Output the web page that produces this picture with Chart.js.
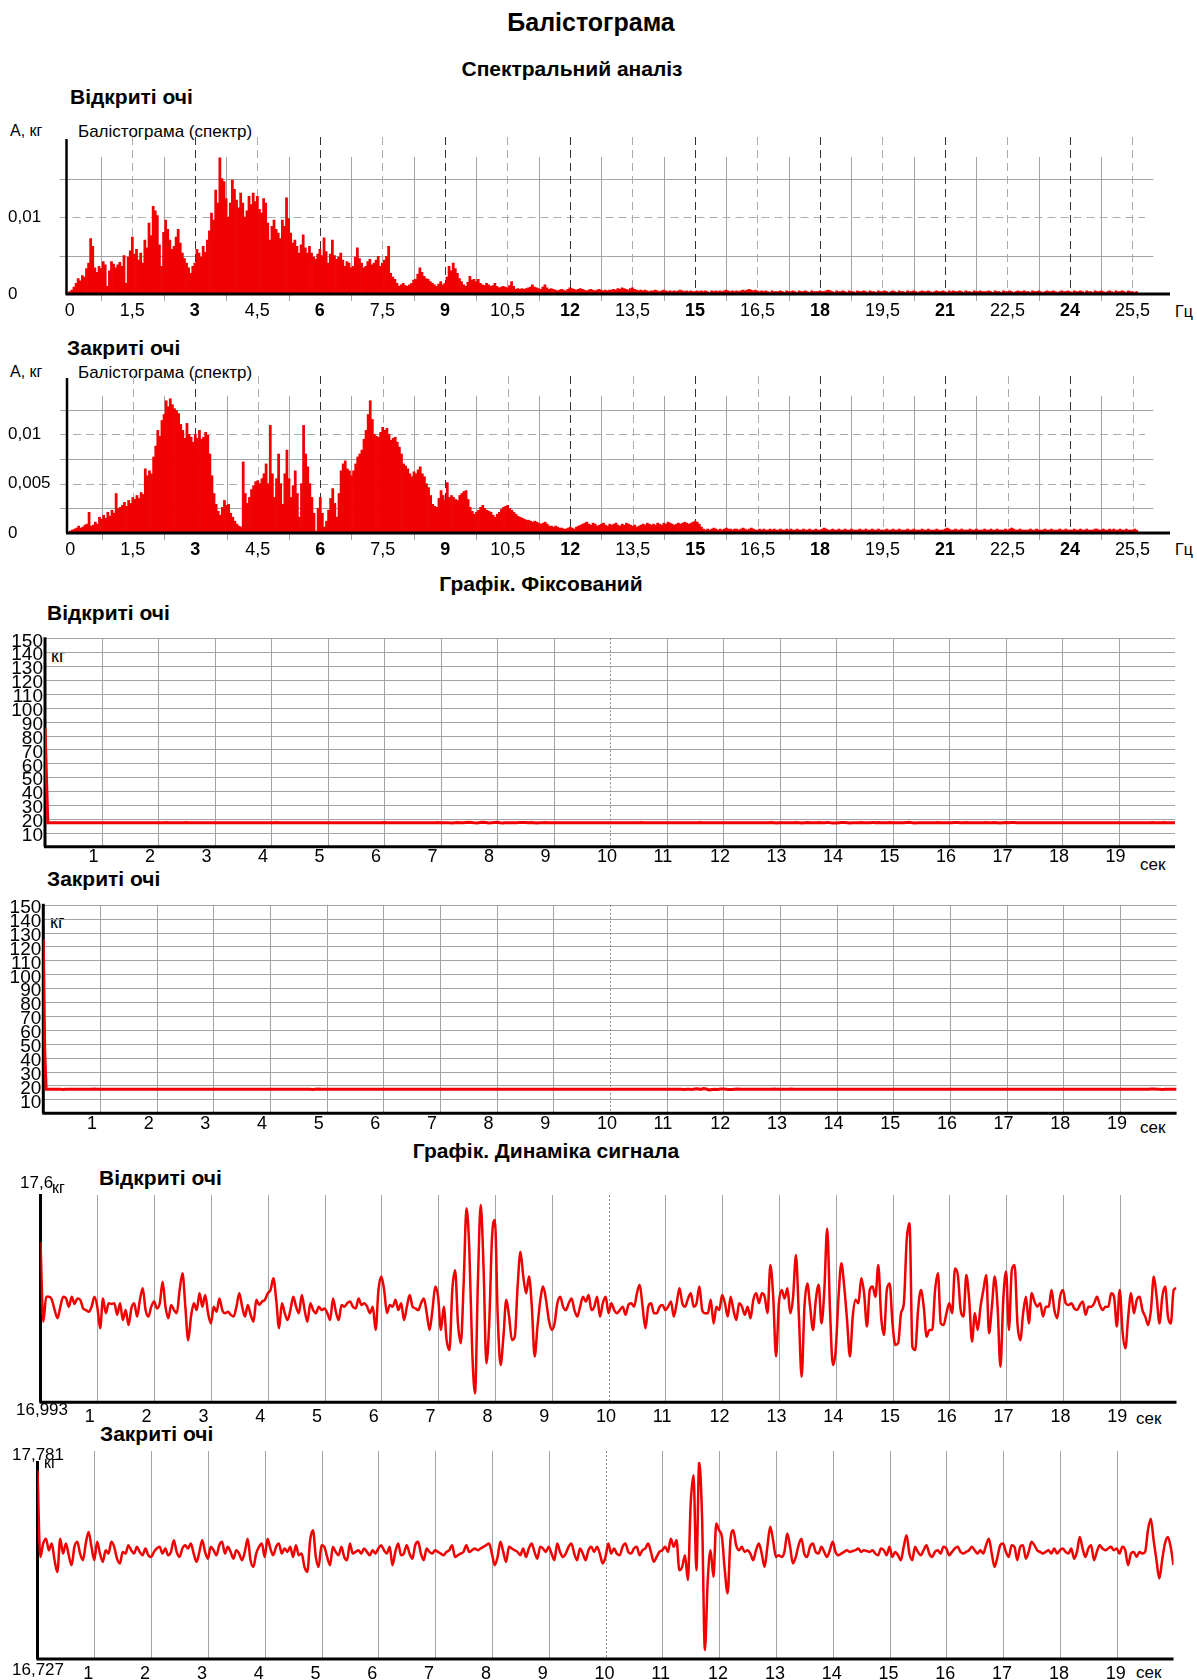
<!DOCTYPE html>
<html lang="uk">
<head>
<meta charset="utf-8">
<title>Балістограма</title>
<script src="https://cdn.jsdelivr.net/npm/chart.js@4.4.1/dist/chart.umd.min.js"></script>
<style>
  html, body { margin: 0; padding: 0; background: #fff; }
  #page { position: relative; width: 1197px; height: 1680px; overflow: hidden;
          font-family: 'Liberation Sans', Arial, Helvetica, sans-serif; color: #000; }
  .txt { position: absolute; white-space: nowrap; line-height: 1; transform: translateY(-50%); }
  .mid { transform: translate(-50%, -50%); }
  .b { font-weight: bold; }
  canvas { position: absolute; left: 0; }
</style>
</head>
<body>
<div id="page">
  <div class="txt mid b" style="left:591px;top:22px;font-size:25px">Балістограма</div>
  <div class="txt mid b" style="left:572px;top:68px;font-size:21px">Спектральний аналіз</div>
  <div class="txt b" style="left:70px;top:96px;font-size:21px">Відкриті очі</div>
  <div class="txt" style="left:10px;top:131px;font-size:16px">А, кг</div>
  <div class="txt" style="left:78px;top:131px;font-size:17px">Балістограма (спектр)</div>
  <div class="txt" style="left:1175px;top:312px;font-size:16px">Гц</div>
  <div class="txt b" style="left:67px;top:347px;font-size:21px">Закриті очі</div>
  <div class="txt" style="left:10px;top:372px;font-size:16px">А, кг</div>
  <div class="txt" style="left:78px;top:372px;font-size:17px">Балістограма (спектр)</div>
  <div class="txt" style="left:1175px;top:550px;font-size:16px">Гц</div>
  <div class="txt mid b" style="left:541px;top:583px;font-size:21px">Графік. Фіксований</div>
  <div class="txt b" style="left:47px;top:612px;font-size:21px">Відкриті очі</div>
  <div class="txt" style="left:51px;top:656px;font-size:18px">кг</div>
  <div class="txt" style="left:1140px;top:864px;font-size:17px">сек</div>
  <div class="txt b" style="left:47px;top:878px;font-size:21px">Закриті очі</div>
  <div class="txt" style="left:50px;top:922px;font-size:18px">кг</div>
  <div class="txt" style="left:1140px;top:1127px;font-size:17px">сек</div>
  <div class="txt mid b" style="left:546px;top:1150px;font-size:21px">Графік. Динаміка сигнала</div>
  <div class="txt b" style="left:99px;top:1177px;font-size:21px">Відкриті очі</div>
  <div class="txt" style="left:1136px;top:1418px;font-size:17px">сек</div>
  <div class="txt b" style="left:100px;top:1433px;font-size:21px">Закриті очі</div>
  <div class="txt" style="left:1136px;top:1672px;font-size:17px">сек</div>
</div>
<script>
// ---- Spectrum amplitudes, step 0.05 Hz from 0 Hz, in units of 0.0001 kg ----
const SPEC_STEP_HZ = 0.05;
const SPEC_UNIT_KG = 1e-4;

const spectrumOpen = [
  3,5,9,14,20,17,24,22,33,40,72,62,34,28,36,33,42,38,10,30,
  42,39,34,38,41,36,50,14,48,56,74,52,58,44,53,40,70,60,92,76,
  114,108,102,64,36,80,96,84,70,58,62,74,84,66,53,46,40,34,27,36,
  40,58,53,48,62,54,70,82,105,96,135,118,177,150,146,124,100,118,148,136,
  122,112,131,118,100,108,127,116,131,120,127,110,105,124,118,92,70,88,96,84,
  79,72,96,88,125,98,79,66,70,62,53,64,77,60,53,62,53,48,45,52,
  58,50,73,55,40,52,70,50,45,48,53,44,36,42,40,34,36,48,60,46,
  40,34,36,42,45,38,40,44,49,36,40,44,49,62,27,22,19,14,10,12,
  14,11,10,12,14,18,19,26,34,28,23,20,19,16,14,12,10,13,16,12,
  14,22,36,30,40,33,27,20,16,12,10,15,23,18,19,16,19,14,12,11,
  14,12,10,11,14,10,8,9,10,9,8,11,16,10,6,7,6,7,6,7,
  8,9,12,9,8,7,6,9,12,8,6,7,6,5,4,5,6,5,4,6,
  8,7,6,5,6,7,6,5,4,5,6,5,4,5,6,5,4,5,4,5,
  5,6,5,7,6,8,7,6,5,7,8,6,5,4,5,4,5,4,3,4,
  4,5,4,3,4,5,4,3,4,3,4,3,4,5,4,3,4,3,4,3,
  3,4,3,4,3,4,3,2,4,3,4,3,4,3,4,5,4,3,4,3,
  4,3,4,5,4,5,6,5,4,5,4,3,4,3,4,3,2,4,3,3,
  3,4,3,2,4,3,3,4,3,2,4,3,3,4,3,2,4,3,3,3,
  4,3,3,4,5,4,3,2,4,3,3,4,3,2,4,3,3,2,4,3,
  3,4,3,2,4,3,3,2,4,3,3,4,3,2,3,4,3,2,4,3,
  3,2,4,3,3,4,3,2,3,4,3,3,4,3,2,3,4,3,3,4,
  3,2,4,3,4,3,3,4,3,2,4,3,3,2,4,3,3,4,3,3,
  3,4,3,2,4,3,3,2,4,3,3,4,3,2,3,4,3,3,4,3,
  3,2,4,3,3,4,3,2,3,4,3,3,4,3,2,3,4,3,3,4,
  3,2,4,3,3,4,3,2,4,3,3,2,4,3,3,4,3,2,3,4,
  3,2,4,3,3,4,3,2,4,3,3,2,3
];

const spectrumClosed = [
  2,3,4,5,7,5,6,8,9,21,7,8,11,9,16,14,18,15,21,17,
  23,20,40,25,26,28,31,27,33,30,36,34,38,35,41,39,65,58,63,60,
  77,88,104,98,114,120,134,128,136,130,126,124,121,110,104,96,111,100,97,92,
  100,96,104,95,97,102,99,80,58,40,29,22,18,26,33,28,29,20,16,12,
  9,7,6,72,40,30,36,44,48,52,53,50,55,60,70,50,109,60,36,55,
  80,50,29,60,84,55,36,48,63,40,16,50,109,80,67,50,36,20,2,25,
  36,20,6,12,23,35,45,30,16,40,63,70,73,65,63,58,63,70,77,80,
  84,95,104,120,134,115,100,98,97,102,107,104,106,100,94,96,97,92,87,80,
  70,68,65,60,57,62,60,64,67,60,57,50,46,38,29,27,26,35,43,38,
  33,51,36,38,36,34,33,38,40,42,43,34,26,22,19,21,23,26,28,25,
  23,22,21,18,16,19,21,24,26,27,28,25,23,21,19,17,16,15,14,13,
  13,12,11,12,11,10,9,10,11,9,7,7,6,7,6,5,5,4,4,5,
  6,5,4,6,7,8,9,10,11,9,8,10,9,7,8,9,10,8,7,9,
  8,9,10,8,7,9,8,10,9,8,7,8,6,7,8,9,8,10,9,8,
  9,8,10,9,8,10,9,11,10,9,8,9,10,9,10,11,10,9,10,11,
  12,11,9,6,4,3,4,3,4,5,4,3,4,3,4,5,4,4,3,4,
  4,3,4,5,4,3,4,5,4,3,3,4,3,4,3,3,4,3,4,3,
  3,4,3,3,4,3,4,3,3,4,3,3,4,3,3,4,3,3,4,3,
  3,4,5,4,3,3,4,3,3,4,3,3,4,3,3,4,3,3,3,4,
  3,3,4,3,3,4,3,3,4,3,3,3,4,3,3,4,3,3,4,3,
  3,3,4,3,3,4,3,3,3,4,3,3,4,3,3,3,4,3,3,3,
  4,5,4,3,3,4,3,3,4,3,3,3,4,3,3,4,3,3,3,4,
  3,3,4,3,3,4,3,3,3,4,3,4,5,4,3,3,4,3,3,3,
  3,4,3,3,4,3,3,3,4,3,3,4,3,3,3,4,3,3,4,3,
  3,3,4,3,3,4,3,3,4,3,3,3,4,4,3,3,4,3,3,4,
  3,4,3,3,4,3,3,4,3,3,3,4,3
];

const specXTicks = [0, 1.5, 3, 4.5, 6, 7.5, 9, 10.5, 12, 13.5, 15, 16.5, 18, 19.5, 21, 22.5, 24, 25.5];
const specXMinor = [0.75, 2.25, 3.75, 5.25, 6.75, 8.25, 9.75, 11.25, 12.75, 14.25, 15.75, 17.25, 18.75, 20.25, 21.75, 23.25, 24.75];
const specOpenYTicks = [0, 0.01];
const specOpenYSolid = [0.005, 0.015];
const specOpenYMax = 0.02;
const specClosedYTicks = [0, 0.005, 0.01];
const specClosedYSolid = [0.0025, 0.0075, 0.0125];
const specClosedYMax = 0.0156;

// ---- Body-weight signal, step 0.05 s from 0 s to 20 s, kg ----
const DYN_STEP_S = 0.05;

const signalOpenKg = [
  17.463,17.229,17.302,17.302,17.293,17.263,17.239,17.273,17.302,17.297,17.273,17.302,17.281,17.297,17.293,17.268,17.263,17.258,17.273,17.302,
  17.273,17.210,17.297,17.254,17.283,17.281,17.283,17.249,17.283,17.234,17.263,17.219,17.268,17.283,17.244,17.293,17.327,17.263,17.244,17.273,
  17.288,17.268,17.283,17.346,17.273,17.239,17.278,17.263,17.254,17.322,17.371,17.273,17.175,17.244,17.283,17.263,17.312,17.273,17.307,17.254,
  17.224,17.273,17.258,17.297,17.263,17.254,17.258,17.249,17.244,17.273,17.312,17.273,17.244,17.278,17.249,17.229,17.293,17.278,17.288,17.293,
  17.312,17.322,17.356,17.293,17.210,17.283,17.254,17.234,17.263,17.302,17.273,17.254,17.307,17.263,17.229,17.283,17.263,17.254,17.273,17.263,
  17.268,17.254,17.234,17.297,17.258,17.234,17.278,17.273,17.283,17.288,17.273,17.268,17.297,17.278,17.283,17.273,17.254,17.273,17.205,17.322,
  17.361,17.322,17.254,17.278,17.273,17.293,17.263,17.283,17.234,17.273,17.307,17.273,17.268,17.263,17.283,17.297,17.254,17.205,17.263,17.332,
  17.302,17.205,17.273,17.175,17.146,17.322,17.380,17.224,17.166,17.341,17.561,17.439,17.146,17.019,17.341,17.571,17.390,17.107,17.224,17.478,
  17.527,17.244,17.102,17.185,17.293,17.244,17.175,17.185,17.332,17.434,17.361,17.312,17.361,17.273,17.127,17.215,17.293,17.332,17.293,17.234,
  17.205,17.224,17.283,17.302,17.273,17.263,17.283,17.297,17.263,17.244,17.273,17.302,17.288,17.307,17.263,17.273,17.302,17.244,17.283,17.302,
  17.254,17.283,17.263,17.254,17.263,17.273,17.249,17.278,17.283,17.273,17.312,17.337,17.273,17.210,17.273,17.283,17.254,17.254,17.273,17.278,
  17.263,17.273,17.288,17.244,17.283,17.327,17.283,17.273,17.297,17.312,17.273,17.283,17.332,17.263,17.254,17.254,17.293,17.224,17.273,17.263,
  17.307,17.283,17.244,17.302,17.263,17.234,17.283,17.273,17.249,17.273,17.239,17.293,17.312,17.283,17.312,17.302,17.254,17.395,17.302,17.127,
  17.283,17.322,17.297,17.327,17.254,17.302,17.424,17.254,17.068,17.273,17.341,17.273,17.205,17.293,17.337,17.224,17.322,17.502,17.263,17.102,
  17.146,17.302,17.400,17.332,17.234,17.127,17.244,17.293,17.283,17.356,17.312,17.215,17.322,17.332,17.302,17.395,17.244,17.190,17.322,17.341,
  17.224,17.161,17.166,17.254,17.283,17.468,17.517,17.156,17.146,17.263,17.322,17.273,17.185,17.205,17.205,17.322,17.371,17.224,17.219,17.254,
  17.283,17.254,17.385,17.366,17.263,17.244,17.366,17.293,17.171,17.254,17.205,17.273,17.322,17.366,17.195,17.273,17.361,17.273,17.097,17.293,
  17.376,17.205,17.380,17.395,17.224,17.175,17.254,17.302,17.224,17.312,17.288,17.273,17.283,17.244,17.273,17.273,17.322,17.263,17.239,17.302,
  17.322,17.283,17.278,17.283,17.268,17.263,17.278,17.288,17.249,17.273,17.273,17.283,17.302,17.278,17.263,17.273,17.273,17.312,17.302,17.215,
  17.322,17.200,17.151,17.244,17.312,17.254,17.293,17.302,17.263,17.244,17.219,17.263,17.361,17.302,17.224,17.302,17.332,17.244,17.224,17.322,
  17.327
];

const signalClosedKg = [
  17.736,17.273,17.345,17.371,17.309,17.345,17.256,17.193,17.371,17.291,17.345,17.282,17.229,17.327,17.354,17.291,17.256,17.345,17.407,17.327,
  17.256,17.354,17.291,17.247,17.309,17.291,17.354,17.327,17.264,17.238,17.300,17.291,17.336,17.309,17.291,17.327,17.300,17.282,17.318,17.282,
  17.273,17.300,17.318,17.327,17.291,17.318,17.282,17.300,17.363,17.300,17.273,17.318,17.336,17.318,17.345,17.291,17.247,17.300,17.363,17.300,
  17.264,17.327,17.309,17.282,17.336,17.354,17.291,17.327,17.300,17.264,17.309,17.291,17.256,17.300,17.371,17.256,17.220,17.291,17.327,17.345,
  17.273,17.371,17.318,17.282,17.327,17.345,17.291,17.318,17.300,17.327,17.273,17.336,17.282,17.291,17.220,17.193,17.363,17.416,17.273,17.220,
  17.336,17.327,17.273,17.229,17.327,17.300,17.282,17.327,17.273,17.256,17.345,17.291,17.300,17.309,17.291,17.318,17.300,17.282,17.309,17.291,
  17.318,17.336,17.309,17.291,17.327,17.229,17.300,17.345,17.282,17.291,17.336,17.291,17.264,17.336,17.354,17.291,17.256,17.318,17.300,17.291,
  17.309,17.300,17.291,17.282,17.300,17.309,17.336,17.273,17.282,17.291,17.300,17.336,17.300,17.309,17.318,17.309,17.318,17.327,17.336,17.345,
  17.291,17.229,17.273,17.354,17.300,17.247,17.327,17.318,17.309,17.300,17.282,17.318,17.273,17.318,17.345,17.300,17.264,17.327,17.318,17.300,
  17.327,17.291,17.256,17.345,17.300,17.273,17.291,17.327,17.345,17.291,17.256,17.318,17.291,17.256,17.309,17.327,17.300,17.327,17.291,17.238,
  17.273,17.345,17.291,17.318,17.291,17.282,17.327,17.345,17.300,17.291,17.318,17.327,17.282,17.309,17.318,17.345,17.300,17.247,17.273,17.300,
  17.309,17.327,17.300,17.371,17.327,17.363,17.202,17.220,17.282,17.149,17.558,17.710,17.202,17.781,17.487,16.775,17.149,17.309,17.167,17.452,
  17.416,17.380,17.202,17.078,17.363,17.416,17.336,17.309,17.327,17.300,17.309,17.291,17.256,17.309,17.345,17.291,17.220,17.327,17.434,17.363,
  17.273,17.282,17.273,17.300,17.398,17.327,17.238,17.273,17.336,17.371,17.291,17.273,17.327,17.345,17.300,17.291,17.327,17.300,17.273,17.309,
  17.354,17.300,17.282,17.291,17.300,17.309,17.300,17.305,17.309,17.318,17.300,17.309,17.305,17.300,17.309,17.291,17.282,17.318,17.309,17.282,
  17.327,17.273,17.300,17.282,17.256,17.327,17.389,17.291,17.256,17.327,17.300,17.282,17.309,17.336,17.291,17.273,17.300,17.309,17.291,17.327,
  17.318,17.282,17.300,17.318,17.327,17.300,17.291,17.300,17.309,17.327,17.309,17.291,17.309,17.291,17.336,17.371,17.291,17.220,17.273,17.336,
  17.345,17.300,17.273,17.336,17.327,17.256,17.327,17.336,17.264,17.300,17.354,17.336,17.309,17.300,17.291,17.300,17.309,17.291,17.318,17.291,
  17.309,17.318,17.300,17.291,17.318,17.264,17.300,17.380,17.318,17.273,17.318,17.336,17.256,17.300,17.336,17.318,17.309,17.318,17.327,17.309,
  17.318,17.291,17.327,17.309,17.229,17.291,17.300,17.273,17.300,17.291,17.300,17.416,17.478,17.363,17.256,17.158,17.256,17.345,17.380,17.327,
  17.229
];

// Platform loading at the very start of each fixed record (time s, load kg)
const fixedOpenOnsetT = [0];
const fixedOpenOnsetKg = [85.5];
const fixedClosedOnsetT = [0, 0.025];
const fixedClosedOnsetKg = [125, 45];

const fixedYTicks = [10, 20, 30, 40, 50, 60, 70, 80, 90, 100, 110, 120, 130, 140, 150];
const fixedYMax = 150;
const timeTicks = [1, 2, 3, 4, 5, 6, 7, 8, 9, 10, 11, 12, 13, 14, 15, 16, 17, 18, 19];
const timeRange = [0, 20];
const signalOpenRange = [16.993, 17.6];
const signalClosedRange = [16.727, 17.781];

// ---- Drawing ----
const FONT = "'Liberation Sans', Arial, Helvetica, sans-serif";
const PAGE_W = 1197;
const RED = '#f00000';
const GRID = '#a3a3a3';
Chart.defaults.font.family = FONT;
Chart.defaults.color = '#000';

const comma = v => String(v).replace('.', ',');
const crisp = v => Math.round(v) + 0.5;
function seg(ctx, x1, y1, x2, y2) { ctx.beginPath(); ctx.moveTo(x1, y1); ctx.lineTo(x2, y2); ctx.stroke(); }

const panels = {
  specOpen:   { top: 110,  height: 215, padLeft: 8, area: { left: 66.5, right: 1170,   top: 140,   bottom: 294 } },
  specClosed: { top: 360,  height: 205, padLeft: 8, area: { left: 67,   right: 1170,   top: 379,   bottom: 533 } },
  fixOpen:    { top: 615,  height: 260, padLeft: 0, area: { left: 45,   right: 1175,   top: 638.3, bottom: 846.7 } },
  fixClosed:  { top: 885,  height: 260, padLeft: 0, area: { left: 43.3, right: 1176.6, top: 904.8, bottom: 1113.3 } },
  dynOpen:    { top: 1160, height: 270, padLeft: 0, area: { left: 40.5, right: 1176.5, top: 1195,  bottom: 1402.3 } },
  dynClosed:  { top: 1440, height: 240, padLeft: 0, area: { left: 37.5, right: 1173.5, top: 1462,  bottom: 1659 } }
};

function makeCanvas(id, p) {
  const c = document.createElement('canvas');
  c.id = id;
  c.width = PAGE_W;
  c.height = p.height;
  c.style.top = p.top + 'px';
  c.style.width = PAGE_W + 'px';
  c.style.height = p.height + 'px';
  document.getElementById('page').appendChild(c);
  return c;
}

function baseOptions(p) {
  return {
    responsive: false,
    animation: false,
    devicePixelRatio: 1,
    events: [],
    layout: { padding: { left: p.padLeft, right: PAGE_W - p.area.right, top: p.area.top - p.top, bottom: 0 } },
    plugins: { legend: { display: false }, tooltip: { enabled: false } }
  };
}
const fitY = p => s => { s.width = p.area.left - p.padLeft; };
const fitX = p => s => { s.height = p.top + p.height - p.area.bottom; };
const setTicks = list => s => { s.ticks = list.map(v => ({ value: v })); };
const NO_GRID = { display: false, drawTicks: false };

function drawAxes(ctx, a, yWidth, xWidth) {
  ctx.save();
  ctx.strokeStyle = '#000';
  ctx.setLineDash([]);
  ctx.lineWidth = yWidth;
  seg(ctx, a.left, a.top - 1, a.left, a.bottom);
  ctx.lineWidth = xWidth;
  seg(ctx, a.left - 1, a.bottom, a.right, a.bottom);
  ctx.restore();
}

function spectrumDecor(yLabeled, ySolid) {
  return {
    id: 'spectrumDecor',
    beforeDatasetsDraw(chart) {
      const { ctx, chartArea: a, scales: { x, y } } = chart;
      ctx.save();
      ctx.lineWidth = 1;
      ctx.strokeStyle = GRID;
      specXMinor.forEach(v => {
        const X = crisp(x.getPixelForValue(v));
        seg(ctx, X, a.top + 17, X, a.bottom + 7);
      });
      const solidEnd = x.getPixelForValue(26.0);
      ySolid.forEach(v => {
        const Y = crisp(y.getPixelForValue(v));
        seg(ctx, a.left - 7, Y, solidEnd, Y);
      });
      ctx.setLineDash([8, 5]);
      ctx.strokeStyle = '#acacac';
      const dashEnd = x.getPixelForValue(25.8);
      yLabeled.filter(v => v > 0).forEach(v => {
        const Y = crisp(y.getPixelForValue(v));
        seg(ctx, a.left - 7, Y, dashEnd, Y);
      });
      specXTicks.filter(v => v > 0).forEach(v => {
        ctx.strokeStyle = v % 3 === 0 ? '#333' : '#acacac';
        const X = crisp(x.getPixelForValue(v));
        seg(ctx, X, a.top - 3, X, a.bottom);
      });
      ctx.restore();
    },
    afterDatasetsDraw(chart) {
      drawAxes(chart.ctx, chart.chartArea, 2.5, 3);
    }
  };
}

function timeGrid(ctx, a, x, rise) {
  ctx.save();
  ctx.lineWidth = 1;
  timeTicks.forEach(v => {
    const X = crisp(x.getPixelForValue(v));
    if (v === 10) { ctx.setLineDash([2, 2]); ctx.strokeStyle = '#8c8c8c'; }
    else { ctx.setLineDash([]); ctx.strokeStyle = GRID; }
    seg(ctx, X, a.top - rise, X, a.bottom);
  });
  ctx.restore();
}

const fixedDecor = {
  id: 'fixedDecor',
  beforeDatasetsDraw(chart) {
    const { ctx, chartArea: a, scales: { x, y } } = chart;
    ctx.save();
    ctx.lineWidth = 1;
    ctx.strokeStyle = GRID;
    fixedYTicks.forEach(v => {
      const Y = crisp(y.getPixelForValue(v));
      seg(ctx, a.left, Y, a.right, Y);
    });
    ctx.restore();
    timeGrid(ctx, a, x, 0);
    drawAxes(ctx, a, 3, 3);
  }
};

function dynamicDecor(lab) {
  return {
    id: 'dynamicDecor',
    beforeDatasetsDraw(chart) {
      const { ctx, chartArea: a, scales: { x } } = chart;
      timeGrid(ctx, a, x, lab.rise);
      drawAxes(ctx, a, 3, 3);
    },
    afterDraw(chart) {
      const { ctx, chartArea: a, scales: { y } } = chart;
      ctx.save();
      ctx.fillStyle = '#000';
      ctx.textAlign = 'left';
      ctx.textBaseline = 'middle';
      ctx.font = '17px ' + FONT;
      ctx.fillText(comma(y.max), lab.maxX, a.top + lab.maxDy);
      ctx.fillText(comma(y.min), lab.minX, a.bottom + lab.minDy);
      ctx.font = '16px ' + FONT;
      ctx.fillText('кг', lab.unitX, a.top + lab.unitDy);
      ctx.restore();
    }
  };
}

function spectrumChart(id, p, values, yTicks, ySolid, yMax) {
  const data = values.map((v, i) => ({ x: i * SPEC_STEP_HZ, y: v * SPEC_UNIT_KG }));
  const opts = baseOptions(p);
  opts.scales = {
    x: {
      type: 'linear', min: -0.08, max: 26.4, offset: false,
      grid: NO_GRID, border: { display: false },
      afterBuildTicks: setTicks(specXTicks), afterFit: fitX(p),
      ticks: {
        autoSkip: false, maxRotation: 0, minRotation: 0, padding: 6, color: '#000',
        font: c => ({ family: FONT, size: 18,
          weight: (c.tick && c.tick.value > 0 && c.tick.value % 3 === 0) ? 'bold' : 'normal' }),
        callback: v => comma(v)
      }
    },
    y: {
      type: 'linear', min: 0, max: yMax,
      grid: NO_GRID, border: { display: false },
      afterBuildTicks: setTicks(yTicks), afterFit: fitY(p),
      ticks: { autoSkip: false, crossAlign: 'far', padding: 0, color: '#000',
               font: { size: 17 }, callback: v => comma(v) }
    }
  };
  return new Chart(makeCanvas(id, p), {
    type: 'bar',
    data: { datasets: [{ data, backgroundColor: RED, borderWidth: 0,
                         barPercentage: 1, categoryPercentage: 1 }] },
    options: opts,
    plugins: [spectrumDecor(yTicks, ySolid)]
  });
}

function timeXScale(p, labelShift, pad) {
  return {
    type: 'linear', min: timeRange[0], max: timeRange[1],
    grid: NO_GRID, border: { display: false },
    afterBuildTicks: setTicks(timeTicks), afterFit: fitX(p),
    ticks: { autoSkip: false, maxRotation: 0, minRotation: 0, align: 'start',
             labelOffset: labelShift, padding: pad, color: '#000', font: { size: 18 },
             callback: v => String(v) }
  };
}

function fixedChart(id, p, onsetT, onsetKg, signal) {
  const data = onsetT.map((t, i) => ({ x: t, y: onsetKg[i] }))
    .concat(signal.slice(1).map((v, i) => ({ x: (i + 1) * DYN_STEP_S, y: v })));
  const opts = baseOptions(p);
  opts.scales = {
    x: timeXScale(p, -13, 0),
    y: {
      type: 'linear', min: 0, max: fixedYMax,
      grid: NO_GRID, border: { display: false },
      afterBuildTicks: setTicks(fixedYTicks), afterFit: fitY(p),
      ticks: { autoSkip: false, padding: 2, labelOffset: 3, color: '#000',
               font: { size: 19, lineHeight: 1 }, callback: v => String(v) }
    }
  };
  return new Chart(makeCanvas(id, p), {
    type: 'line',
    data: { datasets: [{ data, borderColor: RED, borderWidth: 3, pointRadius: 0, tension: 0, fill: false }] },
    options: opts,
    plugins: [fixedDecor]
  });
}

function dynamicChart(id, p, signal, range, labelShift, lab) {
  const data = signal.map((v, i) => ({ x: i * DYN_STEP_S, y: v }));
  const opts = baseOptions(p);
  opts.scales = {
    x: timeXScale(p, labelShift, 4),
    y: {
      type: 'linear', min: range[0], max: range[1],
      grid: NO_GRID, border: { display: false },
      afterFit: fitY(p), ticks: { display: false }
    }
  };
  return new Chart(makeCanvas(id, p), {
    type: 'line',
    data: { datasets: [{ data, borderColor: RED, borderWidth: 2.5, pointRadius: 0,
                         cubicInterpolationMode: 'monotone', fill: false }] },
    options: opts,
    plugins: [dynamicDecor(lab)]
  });
}

spectrumChart('spectrumOpen', panels.specOpen, spectrumOpen, specOpenYTicks, specOpenYSolid, specOpenYMax);
spectrumChart('spectrumClosed', panels.specClosed, spectrumClosed, specClosedYTicks, specClosedYSolid, specClosedYMax);
fixedChart('fixedOpen', panels.fixOpen, fixedOpenOnsetT, fixedOpenOnsetKg, signalOpenKg);
fixedChart('fixedClosed', panels.fixClosed, fixedClosedOnsetT, fixedClosedOnsetKg, signalClosedKg);
dynamicChart('signalOpen', panels.dynOpen, signalOpenKg, signalOpenRange, -12.5,
  { rise: 0, maxX: 20, maxDy: -12, minX: 16, minDy: 8, unitX: 52, unitDy: -6 });
dynamicChart('signalClosed', panels.dynClosed, signalClosedKg, signalClosedRange, -11,
  { rise: 11, maxX: 12, maxDy: -7, minX: 12, minDy: 11, unitX: 44, unitDy: 2 });
</script>
</body>
</html>
